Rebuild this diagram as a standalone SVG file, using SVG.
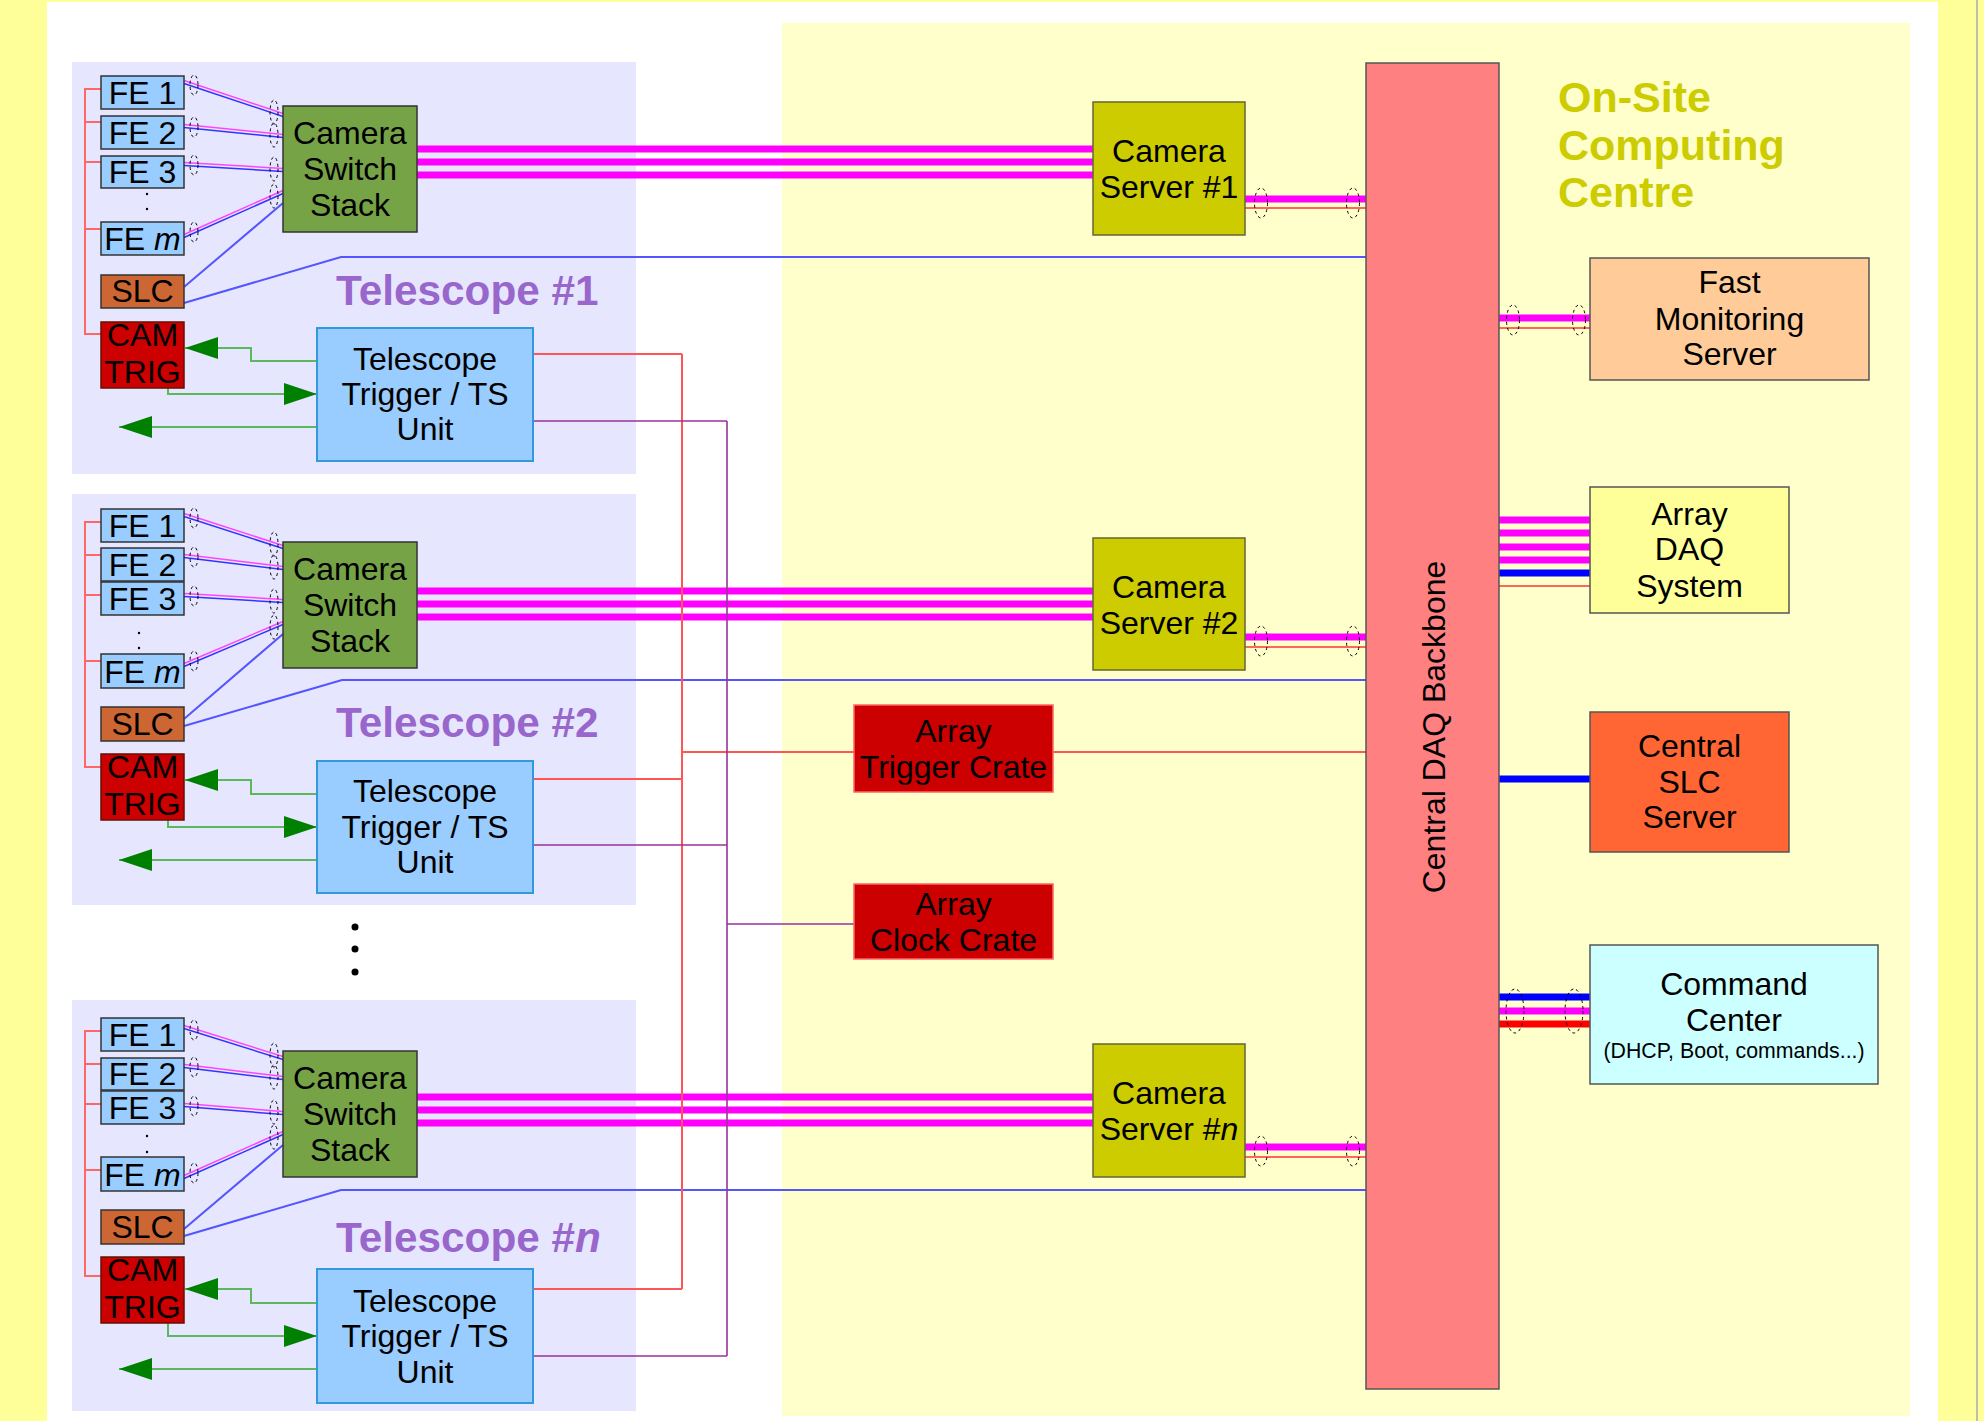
<svg xmlns="http://www.w3.org/2000/svg" width="1984" height="1421" viewBox="0 0 1984 1421">
<style>
text{font-family:"Liberation Sans",Arial,sans-serif;fill:#000}
.lbl{font-size:32px;text-anchor:middle}
.sm{font-size:21.3px;text-anchor:middle}
.tel{font-size:42.3px;font-weight:bold;fill:#9966cc}
.osc{font-size:43px;font-weight:bold;fill:#cccc00}
.bx{stroke:#333;stroke-width:1.5}
.fe{fill:#99ccff}
.sw{fill:#77a347}
.slc{fill:#cc6633}
.cam{fill:#cc0000;stroke:#661100;stroke-width:1.5}
.tt{fill:#99ccff;stroke:#3399dd;stroke-width:2}
.srv{fill:#cccc00;stroke:#666633;stroke-width:1.5}
.crate{fill:#cc0000;stroke:#ff6666;stroke-width:1.5}
.rn{stroke:#555;stroke-width:1.5}
.panel{fill:#e6e6ff}
.mag{stroke:#ff00ff;stroke-width:7;fill:none}
.rt{stroke:#ff3333;stroke-width:1.5;fill:none}
.bus{stroke:#ff5555;stroke-width:2;fill:none}
.pur{stroke:#993399;stroke-width:1.6;fill:none}
.blu{stroke:#5555ff;stroke-width:2;fill:none}
.bth{stroke:#0000ff;stroke-width:7;fill:none}
.pm{stroke:#ff44ff;stroke-width:1.5;fill:none}
.pb{stroke:#3333ff;stroke-width:1.5;fill:none}
.grn{stroke:#5cb85c;stroke-width:2;fill:none;marker-end:url(#ah)}
.ctl{stroke:#ff6666;stroke-width:2;fill:none}
.dash{fill:none;stroke:#000;stroke-width:1;stroke-dasharray:3 3}
</style>
<defs>
<marker id="ah" markerUnits="userSpaceOnUse" viewBox="0 0 33 22" refX="33" refY="11" markerWidth="33" markerHeight="22" orient="auto">
<path d="M0,0 L33,11 L0,22 z" fill="#008000"/>
</marker>
</defs>

<g id="background">
<rect x="0" y="0" width="1984" height="1421" fill="#ffff99"/>
<rect x="47" y="2" width="1891" height="1419" fill="#ffffff"/>
<line x1="1977" y1="0" x2="1977" y2="1421" stroke="#aaaaaa" stroke-width="1.5"/>
<rect x="782" y="23" width="1128" height="1393" fill="#ffffcc"/>
<text class="osc" x="1558" y="112">On-Site</text>
<text class="osc" x="1558" y="160">Computing</text>
<text class="osc" x="1558" y="207">Centre</text>
</g>

<g id="telescope1">
<rect class="panel" x="72" y="62" width="564" height="412"/>
<text class="tel" x="336" y="305">Telescope #1</text>
</g>
<g id="telescope2">
<rect class="panel" x="72" y="494" width="564" height="411"/>
<text class="tel" x="336" y="737">Telescope #2</text>
</g>
<g id="telescopen">
<rect class="panel" x="72" y="1000" width="564" height="411"/>
<text class="tel" x="336" y="1252">Telescope #<tspan font-style="italic">n</tspan></text>
</g>

<g id="connectors">
<path class="ctl" d="M101,89 H85 V334 H101 M85,122 H101 M85,162 H101 M85,229 H101"/>
<path class="ctl" d="M101,522 H85 V767 H101 M85,555 H101 M85,595 H101 M85,661 H101"/>
<path class="ctl" d="M101,1031 H85 V1276 H101 M85,1064 H101 M85,1104 H101 M85,1170 H101"/>
<g>
<path class="pm" d="M184,80.5 L283,113.5 M184,124.5 L283,134.5 M184,162.5 L283,168.5 M184,234.5 L283,190.5"/>
<path class="pb" d="M184,83.5 L283,116.5 M184,127.5 L283,137.5 M184,165.5 L283,171.5 M184,237.5 L283,193.5"/>
<path class="pm" d="M184,513.5 L283,545.5 M184,554.5 L283,566.5 M184,593.5 L283,599.5 M184,663.5 L283,621.5"/>
<path class="pb" d="M184,516.5 L283,548.5 M184,557.5 L283,569.5 M184,596.5 L283,602.5 M184,666.5 L283,624.5"/>
<path class="pm" d="M184,1025.5 L283,1056.5 M184,1064.5 L283,1076.5 M184,1103.5 L283,1111.5 M184,1175.5 L283,1131.5"/>
<path class="pb" d="M184,1028.5 L283,1059.5 M184,1067.5 L283,1079.5 M184,1106.5 L283,1114.5 M184,1178.5 L283,1134.5"/>
</g>
<g>
<ellipse class="dash" cx="194" cy="85" rx="4" ry="10"/>
<ellipse class="dash" cx="194" cy="127" rx="4" ry="10"/>
<ellipse class="dash" cx="194" cy="165" rx="4" ry="10"/>
<ellipse class="dash" cx="194" cy="232" rx="4" ry="10"/>
<ellipse class="dash" cx="274" cy="112" rx="4" ry="12"/>
<ellipse class="dash" cx="274" cy="135" rx="4" ry="12"/>
<ellipse class="dash" cx="274" cy="169" rx="4" ry="12"/>
<ellipse class="dash" cx="274" cy="196" rx="4" ry="12"/>
<ellipse class="dash" cx="194" cy="518" rx="4" ry="10"/>
<ellipse class="dash" cx="194" cy="557" rx="4" ry="10"/>
<ellipse class="dash" cx="194" cy="596" rx="4" ry="10"/>
<ellipse class="dash" cx="194" cy="661" rx="4" ry="10"/>
<ellipse class="dash" cx="274" cy="544" rx="4" ry="12"/>
<ellipse class="dash" cx="274" cy="567" rx="4" ry="12"/>
<ellipse class="dash" cx="274" cy="601" rx="4" ry="12"/>
<ellipse class="dash" cx="274" cy="627" rx="4" ry="12"/>
<ellipse class="dash" cx="194" cy="1030" rx="4" ry="10"/>
<ellipse class="dash" cx="194" cy="1067" rx="4" ry="10"/>
<ellipse class="dash" cx="194" cy="1106" rx="4" ry="10"/>
<ellipse class="dash" cx="194" cy="1173" rx="4" ry="10"/>
<ellipse class="dash" cx="274" cy="1055" rx="4" ry="12"/>
<ellipse class="dash" cx="274" cy="1077" rx="4" ry="12"/>
<ellipse class="dash" cx="274" cy="1112" rx="4" ry="12"/>
<ellipse class="dash" cx="274" cy="1137" rx="4" ry="12"/>
</g>
<path class="blu" d="M184,287 L283,203 M184,303 L341,257 H1366"/>
<path class="blu" d="M184,719 L283,634 M184,726 L342,680 H1366"/>
<path class="blu" d="M184,1229 L283,1145 M184,1236 L341,1190 H1366"/>
<path class="mag" d="M417,149 H1093 M417,162 H1093 M417,175 H1093"/>
<path class="mag" d="M417,591 H1093 M417,604 H1093 M417,617 H1093"/>
<path class="mag" d="M417,1097 H1093 M417,1110 H1093 M417,1123 H1093"/>
<path class="bus" d="M533,354 H682 M533,779 H682 M533,1289 H682 M682,354 V1289 M682,752 H1366"/>
<path class="pur" d="M533,421 H727 M533,845 H727 M533,1356 H727 M727,421 V1356 M727,924 H854"/>
<path class="grn" d="M317,361 H251 V348 H185"/>
<path class="grn" d="M168,388 V394 H317"/>
<path class="grn" d="M317,427 H119"/>
<path class="grn" d="M317,794 H251 V780 H185"/>
<path class="grn" d="M168,820 V827 H317"/>
<path class="grn" d="M317,860 H119"/>
<path class="grn" d="M317,1303 H251 V1289 H185"/>
<path class="grn" d="M168,1323 V1336 H317"/>
<path class="grn" d="M317,1369 H119"/>
<path class="mag" d="M1245,199 H1366 M1245,637 H1366 M1245,1147 H1366"/>
<path class="rt" d="M1245,208 H1366 M1245,647 H1366 M1245,1157 H1366"/>
<ellipse class="dash" cx="1261" cy="203" rx="6.5" ry="15"/>
<ellipse class="dash" cx="1353" cy="203" rx="6.5" ry="15"/>
<ellipse class="dash" cx="1261" cy="641" rx="6.5" ry="15"/>
<ellipse class="dash" cx="1353" cy="641" rx="6.5" ry="15"/>
<ellipse class="dash" cx="1261" cy="1151" rx="6.5" ry="15"/>
<ellipse class="dash" cx="1353" cy="1151" rx="6.5" ry="15"/>
<path class="mag" d="M1499,318 H1590"/>
<path class="rt" d="M1499,328 H1590"/>
<ellipse class="dash" cx="1513" cy="320" rx="6.5" ry="15"/>
<ellipse class="dash" cx="1579" cy="320" rx="6.5" ry="15"/>
<path class="mag" d="M1499,520 H1590 M1499,533 H1590 M1499,547 H1590 M1499,560 H1590"/>
<path class="bth" d="M1499,573 H1590"/>
<path class="rt" d="M1499,586 H1590"/>
<path class="bth" d="M1499,779 H1590"/>
<path class="bth" d="M1499,997 H1590" stroke-width="6"/>
<path class="mag" d="M1499,1011 H1590" stroke-width="6"/>
<path d="M1499,1024 H1590" stroke="#ff0000" stroke-width="7"/>
<ellipse class="dash" cx="1515" cy="1011" rx="9" ry="22"/>
<ellipse class="dash" cx="1574" cy="1011" rx="9" ry="22"/>
</g>

<g id="t1-fe1"><rect class="bx fe" x="101" y="76" width="83" height="33"/><text class="lbl" x="142.5" y="104">FE 1</text></g>
<g id="t1-fe2"><rect class="bx fe" x="101" y="116" width="83" height="33"/><text class="lbl" x="142.5" y="144">FE 2</text></g>
<g id="t1-fe3"><rect class="bx fe" x="101" y="156" width="83" height="32"/><text class="lbl" x="142.5" y="183">FE 3</text></g>
<g id="t1-dots"><circle cx="147" cy="194" r="1.2"/><circle cx="147" cy="209" r="1.2"/></g>
<g id="t1-fem"><rect class="bx fe" x="101" y="222" width="83" height="33"/><text class="lbl" x="142.5" y="250">FE <tspan font-style="italic">m</tspan></text></g>
<g id="t1-slc"><rect class="bx slc" x="101" y="275" width="83" height="33"/><text class="lbl" x="142.5" y="302">SLC</text></g>
<g id="t1-camtrig"><rect class="cam" x="101" y="322" width="83" height="66"/><text class="lbl" x="142.5" y="346">CAM</text><text class="lbl" x="142.5" y="383">TRIG</text></g>
<g id="t1-switch"><rect class="bx sw" x="283" y="106" width="134" height="126"/><text class="lbl" x="350" y="144">Camera</text><text class="lbl" x="350" y="180">Switch</text><text class="lbl" x="350" y="216">Stack</text></g>
<g id="t1-trig"><rect class="tt" x="317" y="328" width="216" height="133"/><text class="lbl" x="425" y="370">Telescope</text><text class="lbl" x="425" y="405">Trigger / TS</text><text class="lbl" x="425" y="440">Unit</text></g>

<g id="t2-fe1"><rect class="bx fe" x="101" y="509" width="83" height="33"/><text class="lbl" x="142.5" y="537">FE 1</text></g>
<g id="t2-fe2"><rect class="bx fe" x="101" y="548" width="83" height="33"/><text class="lbl" x="142.5" y="576">FE 2</text></g>
<g id="t2-fe3"><rect class="bx fe" x="101" y="582" width="83" height="33"/><text class="lbl" x="142.5" y="610">FE 3</text></g>
<g id="t2-dots"><circle cx="139" cy="633" r="1.2"/><circle cx="139" cy="648" r="1.2"/></g>
<g id="t2-fem"><rect class="bx fe" x="101" y="654" width="83" height="34"/><text class="lbl" x="142.5" y="683">FE <tspan font-style="italic">m</tspan></text></g>
<g id="t2-slc"><rect class="bx slc" x="101" y="707" width="83" height="34"/><text class="lbl" x="142.5" y="735">SLC</text></g>
<g id="t2-camtrig"><rect class="cam" x="101" y="754" width="83" height="66"/><text class="lbl" x="142.5" y="778">CAM</text><text class="lbl" x="142.5" y="815">TRIG</text></g>
<g id="t2-switch"><rect class="bx sw" x="283" y="542" width="134" height="126"/><text class="lbl" x="350" y="580">Camera</text><text class="lbl" x="350" y="616">Switch</text><text class="lbl" x="350" y="652">Stack</text></g>
<g id="t2-trig"><rect class="tt" x="317" y="761" width="216" height="132"/><text class="lbl" x="425" y="802">Telescope</text><text class="lbl" x="425" y="838">Trigger / TS</text><text class="lbl" x="425" y="873">Unit</text></g>

<g id="vdots"><circle cx="355" cy="927" r="3.5"/><circle cx="355" cy="949" r="3.5"/><circle cx="355" cy="972" r="3.5"/></g>

<g id="tn-fe1"><rect class="bx fe" x="101" y="1018" width="83" height="33"/><text class="lbl" x="142.5" y="1046">FE 1</text></g>
<g id="tn-fe2"><rect class="bx fe" x="101" y="1058" width="83" height="32"/><text class="lbl" x="142.5" y="1085">FE 2</text></g>
<g id="tn-fe3"><rect class="bx fe" x="101" y="1091" width="83" height="33"/><text class="lbl" x="142.5" y="1119">FE 3</text></g>
<g id="tn-dots"><circle cx="147" cy="1136" r="1.2"/><circle cx="147" cy="1152" r="1.2"/></g>
<g id="tn-fem"><rect class="bx fe" x="101" y="1157" width="83" height="34"/><text class="lbl" x="142.5" y="1186">FE <tspan font-style="italic">m</tspan></text></g>
<g id="tn-slc"><rect class="bx slc" x="101" y="1210" width="83" height="34"/><text class="lbl" x="142.5" y="1238">SLC</text></g>
<g id="tn-camtrig"><rect class="cam" x="101" y="1257" width="83" height="66"/><text class="lbl" x="142.5" y="1281">CAM</text><text class="lbl" x="142.5" y="1318">TRIG</text></g>
<g id="tn-switch"><rect class="bx sw" x="283" y="1051" width="134" height="126"/><text class="lbl" x="350" y="1089">Camera</text><text class="lbl" x="350" y="1125">Switch</text><text class="lbl" x="350" y="1161">Stack</text></g>
<g id="tn-trig"><rect class="tt" x="317" y="1269" width="216" height="134"/><text class="lbl" x="425" y="1312">Telescope</text><text class="lbl" x="425" y="1347">Trigger / TS</text><text class="lbl" x="425" y="1383">Unit</text></g>

<g id="camera-server-1"><rect class="srv" x="1093" y="102" width="152" height="133"/><text class="lbl" x="1169" y="162">Camera</text><text class="lbl" x="1169" y="198">Server #1</text></g>
<g id="camera-server-2"><rect class="srv" x="1093" y="538" width="152" height="132"/><text class="lbl" x="1169" y="598">Camera</text><text class="lbl" x="1169" y="634">Server #2</text></g>
<g id="camera-server-n"><rect class="srv" x="1093" y="1044" width="152" height="133"/><text class="lbl" x="1169" y="1104">Camera</text><text class="lbl" x="1169" y="1140">Server #<tspan font-style="italic">n</tspan></text></g>
<g id="array-trigger-crate"><rect class="crate" x="854" y="705" width="199" height="87"/><text class="lbl" x="953.5" y="742">Array</text><text class="lbl" x="953.5" y="778">Trigger Crate</text></g>
<g id="array-clock-crate"><rect class="crate" x="854" y="884" width="199" height="75"/><text class="lbl" x="953.5" y="915">Array</text><text class="lbl" x="953.5" y="951">Clock Crate</text></g>
<g id="backbone"><rect class="rn" x="1366" y="63" width="133" height="1326" fill="#ff8080"/><text font-size="32" text-anchor="middle" transform="translate(1445,727) rotate(-90)">Central DAQ Backbone</text></g>
<g id="fast-monitoring"><rect class="rn" x="1590" y="258" width="279" height="122" fill="#ffcc99"/><text class="lbl" x="1729.5" y="293">Fast</text><text class="lbl" x="1729.5" y="330">Monitoring</text><text class="lbl" x="1729.5" y="365">Server</text></g>
<g id="array-daq"><rect class="rn" x="1590" y="487" width="199" height="126" fill="#ffff99"/><text class="lbl" x="1689.5" y="525">Array</text><text class="lbl" x="1689.5" y="560">DAQ</text><text class="lbl" x="1689.5" y="597">System</text></g>
<g id="central-slc"><rect class="rn" x="1590" y="712" width="199" height="140" fill="#ff6633"/><text class="lbl" x="1689.5" y="757">Central</text><text class="lbl" x="1689.5" y="793">SLC</text><text class="lbl" x="1689.5" y="828">Server</text></g>
<g id="command-center"><rect class="rn" x="1590" y="945" width="288" height="139" fill="#ccffff"/><text class="lbl" x="1734" y="995">Command</text><text class="lbl" x="1734" y="1031">Center</text><text class="sm" x="1734" y="1058">(DHCP, Boot, commands...)</text></g>
</svg>
